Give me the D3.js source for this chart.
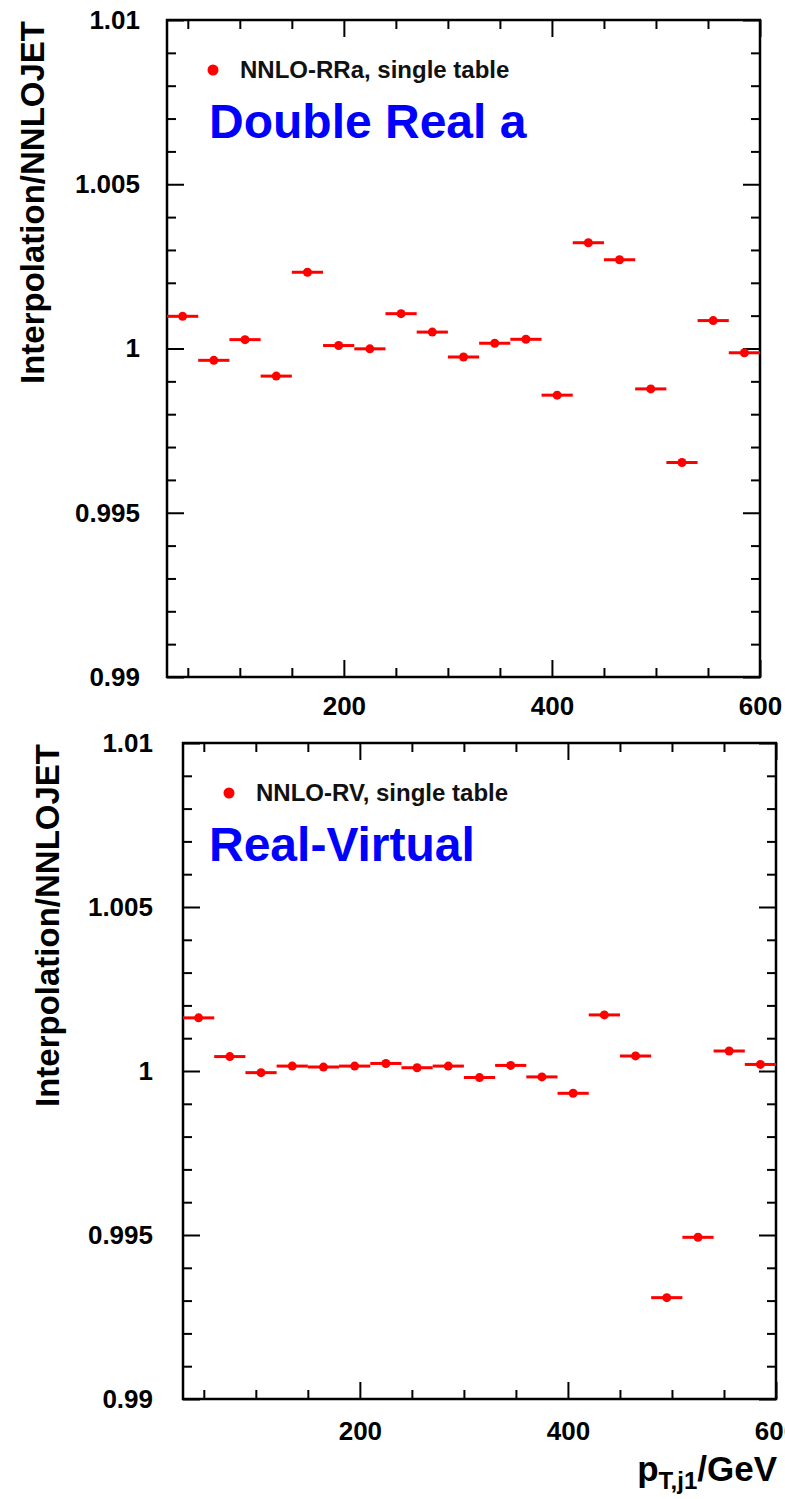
<!DOCTYPE html>
<html>
<head>
<meta charset="utf-8">
<script src="https://cdn.jsdelivr.net/npm/d3@7"></script>
<style>
  body { margin: 0; background: #fff; }
  svg { display: block; font-family: "Liberation Sans", Arial, Helvetica, sans-serif; }
  .tick text { font-size: 26px; font-weight: bold; fill: #000; }
</style>
</head>
<body>
<div class="chart"></div>
<script>
const width = 785;
const height = 1499;

// DATA //
// pT bins (GeV), lower edges, each bin 30 GeV wide
const binLow = [30, 60, 90, 120, 150, 180, 210, 240, 270, 300, 330, 360, 390, 420, 450, 480, 510, 540, 570];
const binWidth = 30;

// Interpolation / NNLOJET ratio, double real a
const ratioRRa = [1.00098, 0.99964, 1.00027, 0.99916, 1.00232, 1.00009, 0.99999, 1.00106, 1.00050, 0.99974,
                  1.00016, 1.00028, 0.99858, 1.00322, 1.00270, 0.99877, 0.99653, 1.00085, 0.99987];
// Interpolation / NNLOJET ratio, real-virtual
const ratioRV = [1.00162, 1.00044, 0.99995, 1.00015, 1.00012, 1.00015, 1.00023, 1.00010, 1.00015, 0.99980,
                 1.00017, 0.99982, 0.99932, 1.00171, 1.00046, 0.99309, 0.99493, 1.00061, 1.00020];

const xMajor = [200, 400, 600];
const xMinor = [50, 100, 150, 250, 300, 350, 450, 500, 550];
const yMajor = [0.99, 0.995, 1, 1.005, 1.01];
const yMajorLabels = ["0.99", "0.995", "1", "1.005", "1.01"];
const yMinor = [0.991, 0.992, 0.993, 0.994, 0.996, 0.997, 0.998, 0.999,
                1.001, 1.002, 1.003, 1.004, 1.006, 1.007, 1.008, 1.009];

const svg = d3.select(".chart")
    .append("svg")
    .attr("width", width)
    .attr("height", height)
    .attr("viewBox", [0, 0, width, height]);

// one ROOT-style panel
function drawPanel(p) {
    const w = 593, h = p.h;
    const g = svg.append("g").attr("transform", `translate(${p.left},${p.top})`);

    const x = d3.scaleLinear().domain([30, 600]).range([0, w]);
    const y = d3.scaleLinear().domain([0.99, 1.01]).range([h, 0]);

    // ticks, all pointing inward
    const tickStyle = sel => {
        sel.select(".domain").remove();
        sel.selectAll(".tick line").attr("stroke", "#000").attr("stroke-width", 2);
    };
    g.append("g").attr("transform", `translate(0,${h})`)
        .call(d3.axisBottom(x).tickValues(xMajor).tickSize(-17).tickPadding(p.xPad).tickFormat(d3.format("d")))
        .call(tickStyle);
    g.append("g").attr("transform", `translate(0,${h})`)
        .call(d3.axisBottom(x).tickValues(xMinor).tickSize(-9).tickFormat(""))
        .call(tickStyle);
    g.append("g")
        .call(d3.axisTop(x).tickValues(xMajor).tickSize(-17).tickFormat(""))
        .call(tickStyle);
    g.append("g")
        .call(d3.axisTop(x).tickValues(xMinor).tickSize(-9).tickFormat(""))
        .call(tickStyle);

    g.append("g")
        .call(d3.axisLeft(y).tickValues(yMajor).tickSize(-17).tickPadding(p.yPad)
            .tickFormat((d, i) => yMajorLabels[i]))
        .call(tickStyle);
    g.append("g")
        .call(d3.axisLeft(y).tickValues(yMinor).tickSize(-9).tickFormat(""))
        .call(tickStyle);
    g.append("g").attr("transform", `translate(${w},0)`)
        .call(d3.axisRight(y).tickValues(yMajor).tickSize(-17).tickFormat(""))
        .call(tickStyle);
    g.append("g").attr("transform", `translate(${w},0)`)
        .call(d3.axisRight(y).tickValues(yMinor).tickSize(-9).tickFormat(""))
        .call(tickStyle);

    // frame
    g.append("rect")
        .attr("width", w).attr("height", h)
        .attr("fill", "none").attr("stroke", "#000").attr("stroke-width", 2.5);

    // points with bin-width bars
    const pts = g.append("g").selectAll("g")
        .data(p.values.map((v, i) => ({lo: binLow[i], v: v})))
        .join("g");
    pts.append("line")
        .attr("x1", d => x(d.lo))
        .attr("x2", d => x(Math.min(d.lo + binWidth, 600)))
        .attr("y1", d => y(d.v))
        .attr("y2", d => y(d.v))
        .attr("stroke", "#ff0000")
        .attr("stroke-width", 3);
    pts.append("circle")
        .attr("cx", d => x(d.lo + binWidth / 2))
        .attr("cy", d => y(d.v))
        .attr("r", 4.5)
        .attr("fill", "#ff0000");

    // legend
    g.append("circle").attr("cx", 46).attr("cy", 50).attr("r", 5.5).attr("fill", "#ff0000");
    g.append("text").attr("x", 73).attr("y", 58)
        .attr("font-size", 24).attr("font-weight", "bold").attr("fill", "#111")
        .text(p.legend);
    g.append("text").attr("x", p.titleX).attr("y", 118)
        .attr("font-size", 48).attr("font-weight", "bold").attr("fill", "#0000ff")
        .text(p.title);

    // y title
    svg.append("text")
        .attr("transform", `translate(${p.yTitleX},${p.top + 1}) rotate(-90)`)
        .attr("text-anchor", "end")
        .attr("font-size", 33).attr("font-weight", "bold")
        .text("Interpolation/NNLOJET");
}

drawPanel({left: 167, top: 20, h: 657, values: ratioRRa, xPad: 20, yPad: 27,
    legend: "NNLO-RRa, single table", title: "Double Real a", titleX: 42, yTitleX: 44});
drawPanel({left: 183, top: 743, h: 656, values: ratioRV, xPad: 23, yPad: 30,
    legend: "NNLO-RV, single table", title: "Real-Virtual", titleX: 26, yTitleX: 59});

// x title
const xt = svg.append("text")
    .attr("x", 777).attr("y", 1481)
    .attr("text-anchor", "end")
    .attr("font-size", 35).attr("font-weight", "bold");
xt.append("tspan").text("p");
xt.append("tspan").attr("font-size", 24).attr("dy", 8).text("T,j1");
xt.append("tspan").attr("dy", -8).text("/GeV");
</script>
</body>
</html>
